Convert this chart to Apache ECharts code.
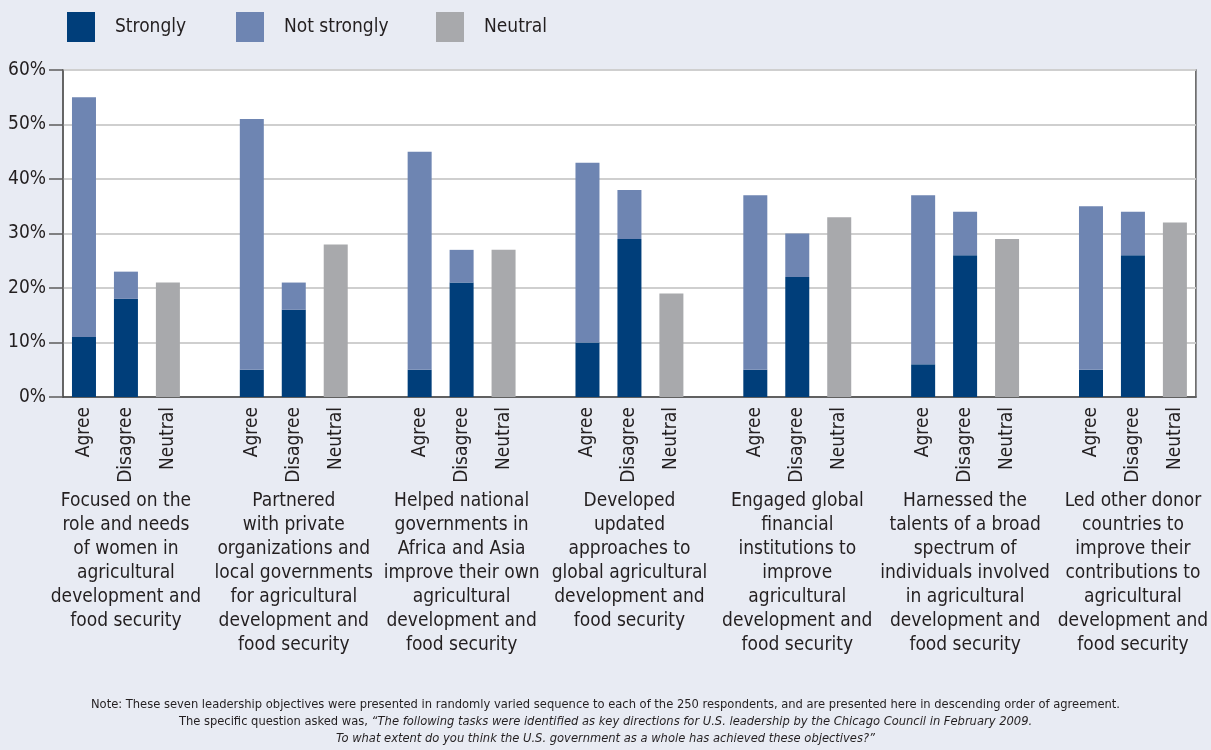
<!DOCTYPE html>
<html>
<head>
<meta charset="utf-8">
<script src="https://cdn.jsdelivr.net/npm/echarts@6/dist/echarts.min.js"></script>
<style>
  html, body { margin: 0; padding: 0; background: #e8ebf3; }
  #chart { width: 1211px; height: 750px; }
</style>
</head>
<body>
<div id="chart"></div>
<script>
const groupLabels = [
  'Focused on the\nrole and needs\nof women in\nagricultural\ndevelopment and\nfood security',
  'Partnered\nwith private\norganizations and\nlocal governments\nfor agricultural\ndevelopment and\nfood security',
  'Helped national\ngovernments in\nAfrica and Asia\nimprove their own\nagricultural\ndevelopment and\nfood security',
  'Developed\nupdated\napproaches to\nglobal agricultural\ndevelopment and\nfood security',
  'Engaged global\nfinancial\ninstitutions to\nimprove\nagricultural\ndevelopment and\nfood security',
  'Harnessed the\ntalents of a broad\nspectrum of\nindividuals involved\nin agricultural\ndevelopment and\nfood security',
  'Led other donor\ncountries to\nimprove their\ncontributions to\nagricultural\ndevelopment and\nfood security'
];
const subLabels = ['Agree', 'Disagree', 'Neutral'];
const agreeStrongly = [11, 5, 5, 10, 5, 6, 5];
const agreeNotStrongly = [44, 46, 40, 33, 32, 31, 30];
const disagreeStrongly = [18, 16, 21, 29, 22, 26, 26];
const disagreeNotStrongly = [5, 5, 6, 9, 8, 8, 8];
const neutralValues = [21, 28, 27, 19, 33, 29, 32];
const yTicks = [0, 10, 20, 30, 40, 50, 60];
const seriesNames = ['Strongly', 'Not strongly', 'Neutral'];
const noteLine1 = 'Note: These seven leadership objectives were presented in randomly varied sequence to each of the 250 respondents, and are presented here in descending order of agreement.';
const noteLine2a = 'The specific question asked was, ';
const noteLine2b = '\u201CThe following tasks were identified as key directions for U.S. leadership by the Chicago Council in February 2009.';
const noteLine3 = 'To what extent do you think the U.S. government as a whole has achieved these objectives?\u201D';

const FONT = "'Liberation Sans Narrow', 'DejaVu Sans Condensed', 'Liberation Sans', sans-serif";
const TXT = '#231f20';
const colors = ['#003e7a', '#6e85b2', '#a8a9ac'];

// Build 27 slots: 3 bars per group + 1 gap between groups
const cats = [], subLab = [], grpLab = [];
const sStrong = [], sNot = [], sNeu = [];
groupLabels.forEach((g, i) => {
  for (let k = 0; k < 3; k++) {
    cats.push('g' + i + 's' + k);
    subLab.push(subLabels[k]);
    grpLab.push(k === 1 ? g : '');
  }
  sStrong.push(agreeStrongly[i], disagreeStrongly[i], '-');
  sNot.push(agreeNotStrongly[i], disagreeNotStrongly[i], '-');
  sNeu.push('-', '-', neutralValues[i]);
  if (i < groupLabels.length - 1) {
    cats.push('gap' + i);
    subLab.push('');
    grpLab.push('');
    sStrong.push('-'); sNot.push('-'); sNeu.push('-');
  }
});

const chart = echarts.init(document.getElementById('chart'));
const legendBase = {
  top: 7,
  itemWidth: 28,
  itemHeight: 30,
  icon: 'rect',
  textStyle: { fontFamily: FONT, fontSize: 19, color: TXT, padding: [0, 0, 0, 15] }
};
const noteRich = {
  n: { fontFamily: FONT, fontSize: 12.8, fill: TXT, fontWeight: 'normal' },
  i: { fontFamily: FONT, fontSize: 12.8, fill: TXT, fontStyle: 'italic', fontWeight: 'normal' }
};
function noteText(text, y) {
  return {
    type: 'text', x: 605.5, y: y,
    style: { text: text, align: 'center', verticalAlign: 'middle', rich: noteRich }
  };
}
chart.setOption({
  backgroundColor: '#e8ebf3',
  animation: false,
  color: colors,
  textStyle: { fontFamily: FONT },
  graphic: [
    noteText('{n|' + noteLine1 + '}', 705),
    noteText('{n|' + noteLine2a + '}{i|' + noteLine2b + '}', 722),
    noteText('{i|' + noteLine3 + '}', 739)
  ],
  legend: [
    Object.assign({ left: 62, data: [seriesNames[0]] }, legendBase),
    Object.assign({ left: 231, data: [seriesNames[1]] }, legendBase),
    Object.assign({ left: 431, data: [seriesNames[2]] }, legendBase)
  ],
  grid: {
    left: 63, right: 8, top: 70, bottom: 353,
    show: true, backgroundColor: '#ffffff', borderColor: '#5c5c5c', borderWidth: 1.5
  },
  xAxis: [
    {
      type: 'category',
      data: cats,
      position: 'bottom',
      axisLine: { lineStyle: { color: '#3c3c3c', width: 1.5 } },
      axisTick: { show: false },
      axisLabel: {
        interval: 0, rotate: 90, margin: 10,
        fontFamily: FONT, fontSize: 19, color: TXT,
        formatter: (v, idx) => subLab[idx]
      }
    },
    {
      type: 'category',
      data: cats,
      position: 'bottom',
      offset: 92,
      axisLine: { show: false },
      axisTick: { show: false },
      axisLabel: {
        interval: 0, margin: 0,
        fontFamily: FONT, fontSize: 19, color: TXT, lineHeight: 24,
        align: 'center', verticalAlign: 'top',
        formatter: (v, idx) => grpLab[idx]
      }
    }
  ],
  yAxis: {
    type: 'value',
    min: yTicks[0], max: yTicks[yTicks.length - 1], interval: 10,
    axisLine: { show: true, lineStyle: { color: '#5c5c5c', width: 1.5 } },
    axisTick: { show: true, length: 14, lineStyle: { color: '#5c5c5c', width: 1.5 } },
    axisLabel: { margin: 17, fontFamily: FONT, fontSize: 19, color: TXT, formatter: '{value}%' },
    splitLine: { lineStyle: { color: '#cfcfcf', width: 2 } }
  },
  series: [
    { name: seriesNames[0], type: 'bar', stack: 'a', barWidth: 24, data: sStrong },
    { name: seriesNames[1], type: 'bar', stack: 'a', barWidth: 24, data: sNot },
    { name: seriesNames[2], type: 'bar', stack: 'a', barWidth: 24, data: sNeu }
  ]
});
</script>
</body>
</html>
